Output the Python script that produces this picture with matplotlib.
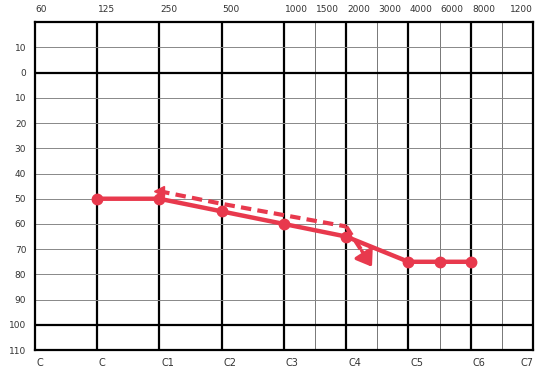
import numpy as np
import matplotlib
matplotlib.use("Agg")
import matplotlib.pyplot as plt

# frequency grid (octave positions), labels along top and bottom
freq_labels = ["60", "125", "250", "500", "1000", "1500", "2000", "3000", "4000", "6000", "8000", "", "1200"]
freq_values = [62.5, 125, 250, 500, 1000, 1500, 2000, 3000, 4000, 6000, 8000, 12000, 16000]
freq_pos = [0, 1, 2, 3, 4, 4.5, 5, 5.5, 6, 6.5, 7, 7.5, 8]
note_labels = ["C", "C", "C1", "C2", "C3", "C4", "C5", "C6", "C7"]
note_pos = [0, 1, 2, 3, 4, 5, 6, 7, 8]

db_ticks = [-10, 0, 10, 20, 30, 40, 50, 60, 70, 80, 90, 100, 110]
db_labels = ["10", "0", "10", "20", "30", "40", "50", "60", "70", "80", "90", "100", "110"]

# air conduction (solid)
air_freq = [125, 250, 500, 1000, 2000, 4000, 6000, 8000]
air_db = [50, 50, 55, 60, 65, 75, 75, 75]

# dashed line
bone_freq = [250, 500, 1000, 2000, 2800]
bone_db = [47, 52, 56.5, 61, 77]

red = "#e8394d"


def fpos(f):
    return np.interp(np.log2(f), np.log2(freq_values), freq_pos)


def main():
    fig = plt.figure(figsize=(5.49, 3.76), dpi=100)
    ax = fig.add_axes([0.063, 0.069, 0.908, 0.872])
    ax.set_xlim(0, 8)
    ax.set_ylim(110, -20)

    # grid
    for p in freq_pos[1:-1]:
        if float(p).is_integer():
            ax.axvline(p, color="black", lw=1.6, zorder=1)
        else:
            ax.axvline(p, color="#777777", lw=0.7, zorder=1)
    for d in db_ticks[:-1]:
        if d in (0, 100):
            ax.axhline(d, color="black", lw=1.6, zorder=1)
        else:
            ax.axhline(d, color="#888888", lw=0.7, zorder=1)
    for s in ax.spines.values():
        s.set_linewidth(1.6)

    ax.set_xticks([])
    ax.set_yticks(db_ticks)
    ax.set_yticklabels(db_labels, fontsize=6.5, color="#333333")
    ax.tick_params(axis="y", length=0, pad=6)

    # top frequency labels
    for lab, p in zip(freq_labels, freq_pos):
        if not lab:
            continue
        if p == 8:
            ax.text(p, 1.025, lab, transform=ax.get_xaxis_transform(), ha="right", va="bottom",
                    fontsize=6.5, color="#333333")
        else:
            ax.text(p + 0.02, 1.025, lab, transform=ax.get_xaxis_transform(), ha="left", va="bottom",
                    fontsize=6.5, color="#333333")
    # bottom note labels
    for lab, p in zip(note_labels, note_pos):
        ha = "right" if p == 8 else "left"
        ax.text(p + (0.0 if p == 8 else 0.03), -0.025, lab, transform=ax.get_xaxis_transform(),
                ha=ha, va="top", fontsize=7, color="#333333")

    # data
    ax.plot(fpos(np.array(air_freq)), air_db, color=red, lw=3.2, marker="o", markersize=7.5,
            solid_capstyle="round", zorder=3)

    bx = fpos(np.array(bone_freq))
    ax.plot(bx[:-1], bone_db[:-1], color=red, lw=3, ls=(0, (2.5, 1.5)), zorder=3)
    ax.plot(bx[0], bone_db[0], color=red, marker="<", markersize=7, zorder=3)
    # last segment: dashed shaft + arrow head
    mid_x = bx[-2] + 0.6 * (bx[-1] - bx[-2])
    mid_y = bone_db[-2] + 0.6 * (bone_db[-1] - bone_db[-2])
    ax.plot([bx[-2], mid_x], [bone_db[-2], mid_y], color=red, lw=3, ls=(0, (2.5, 1.5)), zorder=3)
    ax.annotate("", xy=(bx[-1], bone_db[-1]), xytext=(mid_x, mid_y),
                arrowprops=dict(arrowstyle="-|>,head_length=0.5,head_width=0.35", color=red, lw=2.5,
                                mutation_scale=18, shrinkA=0, shrinkB=0), zorder=3)

    fig.savefig("out.png", dpi=100)


if __name__ == "__main__":
    main()
